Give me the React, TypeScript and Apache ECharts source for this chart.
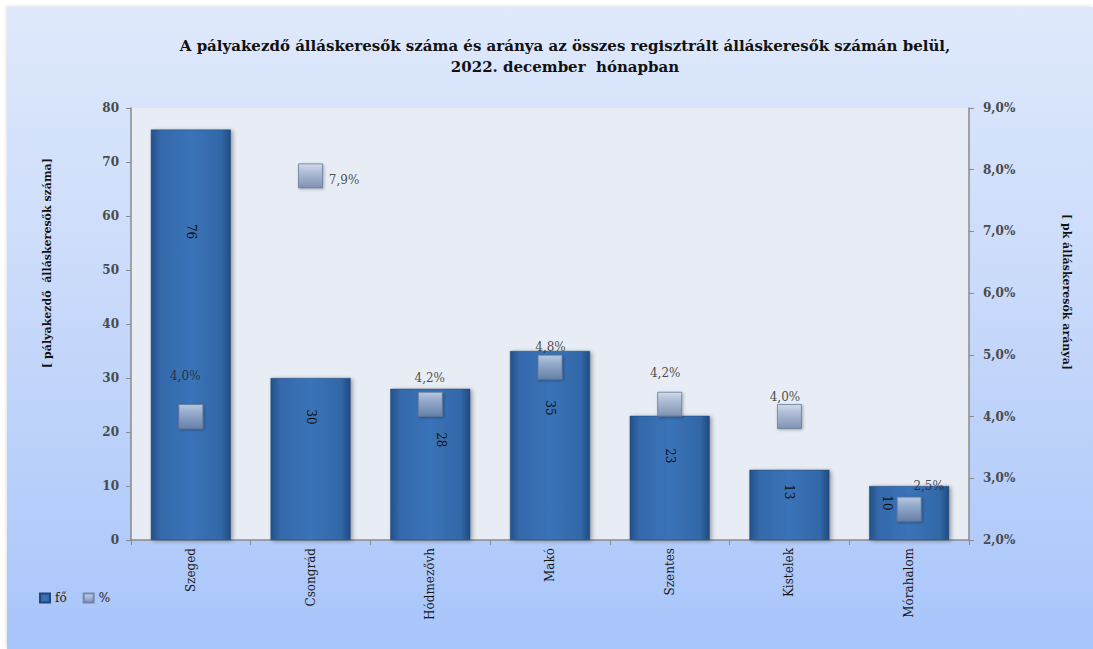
import React, { useEffect, useRef } from "react";
import * as echarts from "echarts";

const categories = ["Szeged", "Csongrád", "Hódmezővh", "Makó", "Szentes", "Kistelek", "Mórahalom"];
const countValues = [76, 30, 28, 35, 23, 13, 10];
const percentValues = [4.0, 7.9, 4.2, 4.8, 4.2, 4.0, 2.5];
const leftTicks = { min: 0, max: 80, interval: 10 };
const rightTicks = { min: 2, max: 9, interval: 1 };
const titleLines = [
  "A pályakezdő álláskeresők száma és aránya az összes regisztrált álláskeresők számán belül,",
  "2022. december  hónapban",
];
const leftAxisName = "[ pályakezdő  álláskeresők száma]";
const rightAxisName = "[ pk álláskeresők aránya]";
const seriesNames = ["fő", "%"];

// label placements (px inside the mark's box)
const barLabelPos: [number, number][] = [[40, 102], [40, 39], [51, 51], [40, 57], [40, 40], [40, 22], [18, 17]];
const pctLabelPos: [number, number][] = [[7, -28], [46, 17], [12, -14], [13, -8], [8, -19], [8, -7], [32, -11]];

const SERIF = "'DejaVu Serif', serif";
const fmtPct = (v: number) => v.toFixed(1).replace(".", ",") + "%";

export default function App() {
  const ref = useRef<HTMLDivElement>(null);
  useEffect(() => {
    if (!ref.current) return;
    const chart = echarts.init(ref.current, undefined, { renderer: "svg" });
    const barColor = {
      type: "linear", x: 0, y: 0, x2: 1, y2: 0,
      colorStops: [
        { offset: 0, color: "#24508a" },
        { offset: 0.12, color: "#3469ab" },
        { offset: 0.5, color: "#3a73b8" },
        { offset: 0.88, color: "#3268a8" },
        { offset: 1, color: "#214b82" },
      ],
    };
    const markColor = {
      type: "linear", x: 0, y: 0, x2: 0, y2: 1,
      colorStops: [
        { offset: 0, color: "#d3def0" },
        { offset: 0.35, color: "#a9bad6" },
        { offset: 1, color: "#7287ab" },
      ],
    };
    chart.setOption({
      animation: false,
      backgroundColor: "transparent",
      title: {
        text: titleLines.join("\n"),
        left: 560,
        top: 30,
        textAlign: "center",
        textStyle: { fontFamily: SERIF, fontWeight: "bold", fontSize: 15, color: "#111", lineHeight: 21 },
      },
      legend: {
        left: 34,
        top: 587,
        itemWidth: 10,
        itemHeight: 9,
        itemGap: 16,
        icon: "rect",
        textStyle: { fontFamily: SERIF, fontSize: 12, color: "#222" },
        data: seriesNames,
      },
      grid: {
        left: 131, right: 124, top: 108, bottom: 109,
        show: true, backgroundColor: "#e8edf5", borderWidth: 0,
      },
      xAxis: {
        type: "category",
        data: categories,
        axisLine: { lineStyle: { color: "#8a8a8a", width: 1.5 } },
        axisTick: { show: true, alignWithLabel: false, length: 5, lineStyle: { color: "#8a8a8a" } },
        axisLabel: { rotate: 90, margin: 8, fontFamily: SERIF, fontSize: 12, color: "#1a1a1a" },
      },
      yAxis: [
        {
          type: "value", ...leftTicks,
          axisLine: { show: true, lineStyle: { color: "#8a8a8a", width: 1.5 } },
          axisTick: { show: true, length: 5, lineStyle: { color: "#8a8a8a" } },
          splitLine: { show: false },
          axisLabel: { margin: 12, fontFamily: SERIF, fontSize: 12, fontWeight: "bold", color: "#4a4a4a" },
        },
        {
          type: "value", ...rightTicks,
          position: "right",
          axisLine: { show: true, lineStyle: { color: "#8a8a8a", width: 1.5 } },
          axisTick: { show: true, length: 5, lineStyle: { color: "#8a8a8a" } },
          splitLine: { show: false },
          axisLabel: {
            margin: 14, fontFamily: SERIF, fontSize: 12, fontWeight: "bold", color: "#4a4a4a",
            formatter: (v: number) => fmtPct(v),
          },
        },
      ],
      series: [
        {
          name: seriesNames[0],
          type: "bar",
          barWidth: 80,
          itemStyle: {
            color: barColor,
            borderColor: "#1f4677",
            borderWidth: 0.5,
            shadowColor: "rgba(0,0,0,0.35)",
            shadowBlur: 4,
            shadowOffsetX: 2,
            shadowOffsetY: 1,
          },
          data: countValues.map((v, i) => ({
            value: v,
            label: {
              show: true,
              position: barLabelPos[i],
              align: "center",
              verticalAlign: "middle",
              rotate: -90,
              fontFamily: SERIF,
              fontSize: 12,
              color: "#111",
            },
          })),
        },
        {
          name: seriesNames[1],
          type: "scatter",
          yAxisIndex: 1,
          symbol: "rect",
          symbolSize: 24,
          itemStyle: {
            color: markColor,
            borderColor: "#66799a",
            borderWidth: 1,
            shadowColor: "rgba(0,0,0,0.35)",
            shadowBlur: 3,
            shadowOffsetX: 1,
            shadowOffsetY: 1,
          },
          data: percentValues.map((v, i) => ({
            value: v,
            label: {
              show: true,
              position: pctLabelPos[i],
              align: "center",
              verticalAlign: "middle",
              fontFamily: SERIF,
              fontSize: 12,
              color: "#222",
              formatter: () => fmtPct(v),
            },
          })),
        },
      ],
      graphic: [
        {
          type: "text",
          x: 47,
          y: 263,
          rotation: Math.PI / 2,
          style: {
            text: leftAxisName,
            fontFamily: SERIF,
            fontSize: 11,
            fontWeight: "bold",
            fill: "#111",
            align: "center",
            verticalAlign: "middle",
          },
        },
        {
          type: "text",
          x: 1066,
          y: 292,
          rotation: -Math.PI / 2,
          style: {
            text: rightAxisName,
            fontFamily: SERIF,
            fontSize: 11,
            fontWeight: "bold",
            fill: "#111",
            align: "center",
            verticalAlign: "middle",
          },
        },
      ],
    });
    return () => chart.dispose();
  }, []);

  return (
    <div style={{ position: "absolute", left: 0, top: 0, width: 1093, height: 649, background: "#ffffff", overflow: "hidden" }}>
      <div
        style={{
          position: "absolute",
          left: 7,
          top: 7,
          width: 1086,
          height: 642,
          background: "linear-gradient(180deg, #dfe9fc 0%, #c9dafa 45%, #a8c5fa 100%)",
          boxShadow: "-1px -1px 3px rgba(0,0,0,0.12)",
        }}
      />
      <div ref={ref} style={{ position: "absolute", left: 0, top: 0, width: 1093, height: 649 }} />
    </div>
  );
}
